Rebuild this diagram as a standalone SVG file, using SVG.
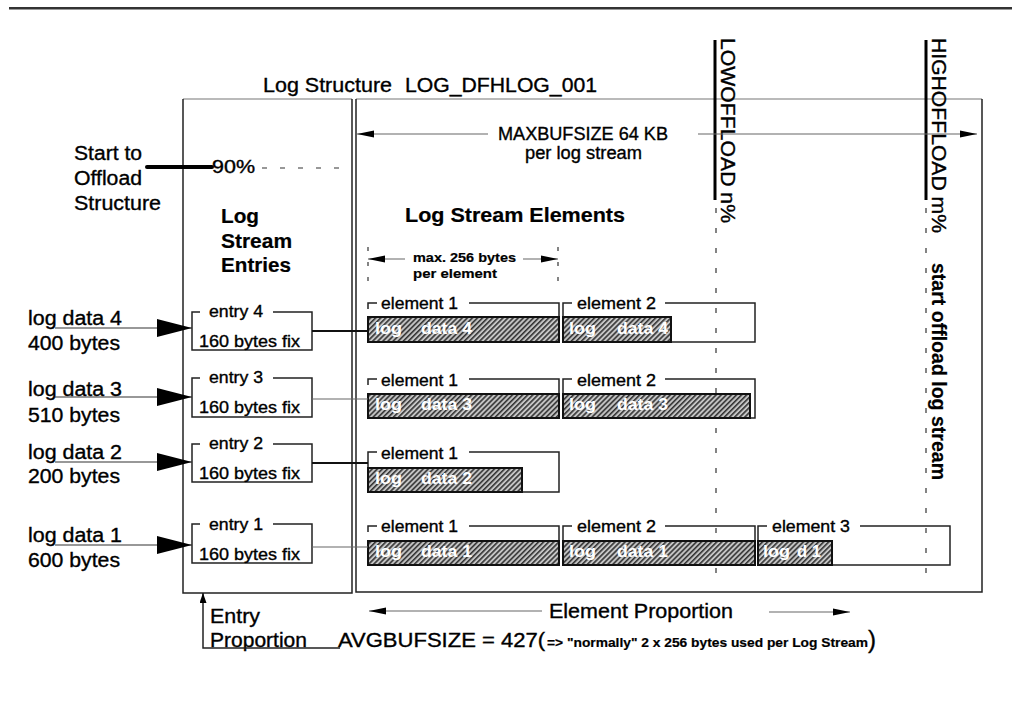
<svg xmlns="http://www.w3.org/2000/svg" width="1012" height="703" viewBox="0 0 1012 703">
<defs>
<style>
text{font-family:"Liberation Sans",Arial,Helvetica,sans-serif;fill:#000;stroke:#000;stroke-width:0.35}
.b{font-weight:bold;stroke-width:0.2}
.f20{font-size:20px}
.f18{font-size:18px}
.f17{font-size:17px}
.f16{font-size:16px}
.f13{font-size:13px}
.ln{stroke:#222;stroke-width:1.5;fill:none}
.lg{stroke:#666;stroke-width:1.2;fill:none}
.hb{fill:url(#hatch);stroke:#111;stroke-width:2}
.ht{font-weight:bold;font-size:16px;fill:#fff;stroke:none}
.dash{stroke:#333;stroke-width:1.2;stroke-dasharray:5 15;fill:none}
</style>
<pattern id="hatch" patternUnits="userSpaceOnUse" width="3.6" height="3.6" patternTransform="rotate(45)">
<rect width="3.6" height="3.6" fill="#c4c4c4"/>
<line x1="0.8" y1="0" x2="0.8" y2="3.6" stroke="#2a2a2a" stroke-width="1.5"/>
</pattern>
<marker id="tri" markerUnits="userSpaceOnUse" markerWidth="36" markerHeight="20" refX="35" refY="10" orient="auto"><path d="M0,1 L35,10 L0,19 Z" fill="#000"/></marker>
<marker id="ah" markerUnits="userSpaceOnUse" markerWidth="18" markerHeight="8" refX="17" refY="4" orient="auto"><path d="M0,0.5 L17,4 L0,7.5 Z" fill="#000"/></marker>
<marker id="ahs" markerUnits="userSpaceOnUse" markerWidth="11" markerHeight="7" refX="10" refY="3.5" orient="auto"><path d="M0,0 L10,3.5 L0,7 Z" fill="#000"/></marker>
</defs>
<rect width="1012" height="703" fill="#fff"/>

<g id="top-rule">
<rect x="9" y="7" width="1003" height="2" fill="#333"/>
<rect x="9" y="9" width="1003" height="1" fill="#999"/>
</g>

<g id="title">
<text class="f20" x="263" y="92" textLength="129" lengthAdjust="spacingAndGlyphs">Log Structure</text>
<text class="f20" x="405" y="92" textLength="192" lengthAdjust="spacingAndGlyphs">LOG_DFHLOG_001</text>
</g>

<g id="entry-frame">
<path d="M183,99 H352" stroke="#777" stroke-width="1.2" fill="none"/>
<path d="M183,99 V593 H352 V99" class="ln"/>
</g>
<g id="element-frame">
<path d="M356,99 H982" stroke="#777" stroke-width="1.2" fill="none"/>
<path d="M356,99 V592 H982 V99" class="ln"/>
</g>

<g id="start-offload">
<text class="f20" x="74" y="160" textLength="68" lengthAdjust="spacingAndGlyphs">Start to</text>
<text class="f20" x="74" y="185" textLength="68" lengthAdjust="spacingAndGlyphs">Offload</text>
<text class="f20" x="74" y="210" textLength="87" lengthAdjust="spacingAndGlyphs">Structure</text>
<path d="M147,167 H212" stroke="#000" stroke-width="4" stroke-linecap="round"/>
<text class="f18" x="212" y="173" textLength="43" lengthAdjust="spacingAndGlyphs">90%</text>
<path d="M262,168 H348" stroke="#333" stroke-width="1.2" stroke-dasharray="5 13"/>
</g>

<g id="entries-heading">
<text class="f20 b" x="221" y="223" textLength="38" lengthAdjust="spacingAndGlyphs">Log</text>
<text class="f20 b" x="221" y="248" textLength="71" lengthAdjust="spacingAndGlyphs">Stream</text>
<text class="f20 b" x="221" y="272" textLength="70" lengthAdjust="spacingAndGlyphs">Entries</text>
</g>

<g id="maxbufsize">
<text class="f18" x="498" y="140" textLength="170" lengthAdjust="spacingAndGlyphs">MAXBUFSIZE 64 KB</text>
<text class="f18" x="525" y="159" textLength="117" lengthAdjust="spacingAndGlyphs">per log stream</text>
</g>

<g id="elements-heading">
<text class="f20 b" x="405" y="222" textLength="220" lengthAdjust="spacingAndGlyphs">Log Stream Elements</text>
</g>

<g id="max256">
<text class="f13 b" x="413" y="262" textLength="103" lengthAdjust="spacingAndGlyphs">max. 256 bytes</text>
<text class="f13 b" x="413" y="278" textLength="84" lengthAdjust="spacingAndGlyphs">per element</text>
<path d="M368,247 V292 M558,247 V292" stroke="#333" stroke-width="1.2" stroke-dasharray="4 11"/>
</g>

<g id="lowoffload">
<path d="M715,40 V200" stroke="#000" stroke-width="3"/>
<text class="f20" transform="translate(721,38) rotate(90)" textLength="185" lengthAdjust="spacingAndGlyphs">LOWOFFLOAD n%</text>
<path d="M716,208 V588" class="dash"/>
</g>
<g id="highoffload">
<path d="M926,40 V200" stroke="#000" stroke-width="3"/>
<text class="f20" transform="translate(932,38) rotate(90)" textLength="195" lengthAdjust="spacingAndGlyphs">HIGHOFFLOAD m%</text>
<path d="M926,208 V588" class="dash"/>
<text class="f20 b" transform="translate(932,263) rotate(90)" textLength="217" lengthAdjust="spacingAndGlyphs">start offload log stream</text>
</g>

<g id="log-data-labels">
<text class="f20" x="28" y="325" textLength="94" lengthAdjust="spacingAndGlyphs">log data 4</text>
<text class="f20" x="28" y="350" textLength="92" lengthAdjust="spacingAndGlyphs">400 bytes</text>
<text class="f20" x="28" y="396" textLength="94" lengthAdjust="spacingAndGlyphs">log data 3</text>
<text class="f20" x="28" y="422" textLength="92" lengthAdjust="spacingAndGlyphs">510 bytes</text>
<text class="f20" x="28" y="459" textLength="94" lengthAdjust="spacingAndGlyphs">log data 2</text>
<text class="f20" x="28" y="483" textLength="92" lengthAdjust="spacingAndGlyphs">200 bytes</text>
<text class="f20" x="28" y="542" textLength="94" lengthAdjust="spacingAndGlyphs">log data 1</text>
<text class="f20" x="28" y="567" textLength="92" lengthAdjust="spacingAndGlyphs">600 bytes</text>
</g>

<g id="entry4">
<path d="M200,312 H192 V350 H312 V312 H273" class="ln"/>
<text class="f16" x="209" y="317" textLength="54" lengthAdjust="spacingAndGlyphs">entry 4</text>
<text class="f16" x="199" y="347" textLength="101" lengthAdjust="spacingAndGlyphs">160 bytes fix</text>
</g>
<g id="entry3">
<path d="M200,378 H192 V417 H312 V378 H273" class="ln"/>
<text class="f16" x="209" y="383" textLength="54" lengthAdjust="spacingAndGlyphs">entry 3</text>
<text class="f16" x="199" y="413" textLength="101" lengthAdjust="spacingAndGlyphs">160 bytes fix</text>
</g>
<g id="entry2">
<path d="M200,444 H192 V482 H312 V444 H273" class="ln"/>
<text class="f16" x="209" y="449" textLength="54" lengthAdjust="spacingAndGlyphs">entry 2</text>
<text class="f16" x="199" y="479" textLength="101" lengthAdjust="spacingAndGlyphs">160 bytes fix</text>
</g>
<g id="entry1">
<path d="M200,524 H192 V563 H312 V524 H273" class="ln"/>
<text class="f16" x="209" y="530" textLength="54" lengthAdjust="spacingAndGlyphs">entry 1</text>
<text class="f16" x="199" y="560" textLength="101" lengthAdjust="spacingAndGlyphs">160 bytes fix</text>
</g>

<g id="row4-element1">
<path d="M368,309 V303 H377 M469,303 H559 V342" class="ln"/>
<rect x="368" y="317" width="191" height="25" class="hb"/>
<text class="f17" x="381" y="309" textLength="77" lengthAdjust="spacingAndGlyphs">element 1</text>
<text class="ht" x="375" y="334" textLength="27" lengthAdjust="spacingAndGlyphs">log</text>
<text class="ht" x="421" y="334" textLength="51" lengthAdjust="spacingAndGlyphs">data 4</text>
</g>
<g id="row4-element2">
<path d="M563,317 V303 H572 M665,303 H755 V342 H671" class="ln"/>
<rect x="563" y="317" width="108" height="25" class="hb"/>
<text class="f17" x="577" y="309" textLength="79" lengthAdjust="spacingAndGlyphs">element 2</text>
<text class="ht" x="569" y="334" textLength="27" lengthAdjust="spacingAndGlyphs">log</text>
<text class="ht" x="617" y="334" textLength="51" lengthAdjust="spacingAndGlyphs">data 4</text>
</g>

<g id="row3-element1">
<path d="M368,385 V379 H377 M469,379 H559 V418" class="ln"/>
<rect x="368" y="394" width="191" height="24" class="hb"/>
<text class="f17" x="381" y="386" textLength="77" lengthAdjust="spacingAndGlyphs">element 1</text>
<text class="ht" x="375" y="410" textLength="27" lengthAdjust="spacingAndGlyphs">log</text>
<text class="ht" x="421" y="410" textLength="51" lengthAdjust="spacingAndGlyphs">data 3</text>
</g>
<g id="row3-element2">
<path d="M563,394 V379 H572 M665,379 H755 V418 H750" class="ln"/>
<rect x="563" y="394" width="187" height="24" class="hb"/>
<text class="f17" x="577" y="386" textLength="79" lengthAdjust="spacingAndGlyphs">element 2</text>
<text class="ht" x="569" y="410" textLength="27" lengthAdjust="spacingAndGlyphs">log</text>
<text class="ht" x="617" y="410" textLength="51" lengthAdjust="spacingAndGlyphs">data 3</text>
</g>

<g id="row2-element1">
<path d="M368,468 V452 H377 M469,452 H559 V492 H522" class="ln"/>
<rect x="368" y="468" width="154" height="24" class="hb"/>
<text class="f17" x="381" y="459" textLength="77" lengthAdjust="spacingAndGlyphs">element 1</text>
<text class="ht" x="375" y="484" textLength="27" lengthAdjust="spacingAndGlyphs">log</text>
<text class="ht" x="421" y="484" textLength="51" lengthAdjust="spacingAndGlyphs">data 2</text>
</g>

<g id="row1-element1">
<path d="M368,532 V526 H377 M469,526 H559 V565" class="ln"/>
<rect x="368" y="541" width="191" height="24" class="hb"/>
<text class="f17" x="381" y="532" textLength="77" lengthAdjust="spacingAndGlyphs">element 1</text>
<text class="ht" x="375" y="557" textLength="27" lengthAdjust="spacingAndGlyphs">log</text>
<text class="ht" x="421" y="557" textLength="51" lengthAdjust="spacingAndGlyphs">data 1</text>
</g>
<g id="row1-element2">
<path d="M563,541 V526 H572 M665,526 H755 V565" class="ln"/>
<rect x="563" y="541" width="192" height="24" class="hb"/>
<text class="f17" x="577" y="532" textLength="79" lengthAdjust="spacingAndGlyphs">element 2</text>
<text class="ht" x="569" y="557" textLength="27" lengthAdjust="spacingAndGlyphs">log</text>
<text class="ht" x="617" y="557" textLength="51" lengthAdjust="spacingAndGlyphs">data 1</text>
</g>
<g id="row1-element3">
<path d="M758,541 V526 H767 M860,526 H950 V565 H832" class="ln"/>
<rect x="758" y="541" width="74" height="24" class="hb"/>
<text class="f17" x="772" y="532" textLength="78" lengthAdjust="spacingAndGlyphs">element 3</text>
<text class="ht" x="763" y="557" textLength="27" lengthAdjust="spacingAndGlyphs">log</text>
<text class="ht" x="797" y="557" textLength="24" lengthAdjust="spacingAndGlyphs">d 1</text>
</g>

<g id="bottom-labels">
<text class="f20" x="210" y="623" textLength="50" lengthAdjust="spacingAndGlyphs">Entry</text>
<text class="f20" x="210" y="647" textLength="97" lengthAdjust="spacingAndGlyphs">Proportion</text>
<text class="f20" x="549" y="618" textLength="184" lengthAdjust="spacingAndGlyphs">Element Proportion</text>
<text class="f20" x="338" y="647" textLength="207" lengthAdjust="spacingAndGlyphs">AVGBUFSIZE = 427(</text>
<text class="f13 b" x="547" y="647" textLength="321" lengthAdjust="spacingAndGlyphs">=&gt; "normally" 2 x 256 bytes used per Log Stream</text>
<text x="868" y="648" style="font-size:23px" textLength="8" lengthAdjust="spacingAndGlyphs">)</text>
</g>

<g id="connectors">
<path d="M55,328 H192" stroke="#333" stroke-width="1.2" marker-end="url(#tri)"/>
<path d="M55,397 H192" stroke="#333" stroke-width="1.2" marker-end="url(#tri)"/>
<path d="M55,462 H192" stroke="#333" stroke-width="1.2" marker-end="url(#tri)"/>
<path d="M55,545 H192" stroke="#333" stroke-width="1.2" marker-end="url(#tri)"/>
<path d="M312,331 H368" stroke="#111" stroke-width="2"/>
<path d="M312,399 H368" class="lg"/>
<path d="M312,463 H368" stroke="#111" stroke-width="2"/>
<path d="M312,547 H368" class="lg"/>
<path d="M488,134 H357" class="lg" marker-end="url(#ah)"/>
<path d="M698,134 H977" class="lg" marker-end="url(#ah)"/>
<path d="M405,259 H368" class="lg" marker-end="url(#ah)"/>
<path d="M523,259 H558" class="lg" marker-end="url(#ah)"/>
<path d="M542,611 H369" class="lg" marker-end="url(#ah)"/>
<path d="M769,612 H850" class="lg" marker-end="url(#ah)"/>
<path d="M340,648 H203 V593" class="ln" marker-end="url(#ahs)"/>
</g>
</svg>
